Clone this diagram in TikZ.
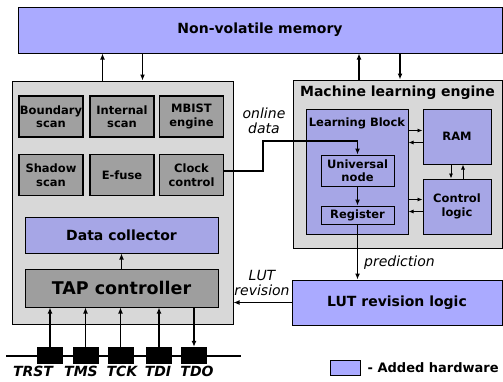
\documentclass[tikz,border=0pt]{standalone}
\usepackage{fontspec}
\setmainfont{DejaVu Sans}
\usetikzlibrary{arrows.meta,positioning}
\definecolor{hwblue}{RGB}{170,170,255}
\definecolor{mlblue}{RGB}{166,166,230}
\definecolor{bggray}{RGB}{216,216,216}
\definecolor{subgray}{RGB}{160,160,160}
\definecolor{tapgray}{RGB}{158,158,158}
\begin{document}
\begin{tikzpicture}[x=1pt,y=-1pt,
  box/.style={draw,line width=1pt,inner sep=0pt,align=center,font=\fontsize{14}{16}\selectfont\bfseries},
  addhw/.style={box,fill=hwblue},
  mlhw/.style={box,fill=mlblue,font=\fontsize{11.5}{13.5}\selectfont\bfseries},
  dftbg/.style={box,fill=bggray},
  sub/.style={box,fill=subgray,line width=1.4pt,minimum width=64pt,minimum height=41pt,font=\fontsize{11.5}{13.5}\selectfont\bfseries},
  pin/.style={fill=black,minimum width=26pt,minimum height=17pt,inner sep=0pt},
  wire/.style={line width=1.2pt,-{Latex[length=6pt,width=5pt]}},
  thinwire/.style={line width=0.8pt,-{Latex[length=5pt,width=4pt]}},
  lbl/.style={font=\fontsize{14}{15}\selectfont\itshape,align=center,inner sep=1pt}]
\useasboundingbox (0,0) rectangle (503,381);
% memory and test side
\node[addhw,minimum width=484pt,minimum height=46pt] (nvm) at (260,30) {Non-volatile memory};
\node[dftbg,minimum width=221pt,minimum height=243pt] (dft) at (122.5,202.5) {};
\node[sub] (bscan) at (51,116.5) {Boundary\\scan};
\node[sub] (iscan) at (122,116.5) {Internal\\scan};
\node[sub] (mbist) at (191.5,116.5) {MBIST\\engine};
\node[sub] (sscan) at (51,175) {Shadow\\scan};
\node[sub] (efuse) at (122,175) {E-fuse};
\node[sub] (clk) at (191.5,175) {Clock\\control};
\node[box,fill=mlblue,minimum width=193pt,minimum height=36pt] (dcoll) at (121.5,235) {Data collector};
\node[box,fill=tapgray,minimum width=193pt,minimum height=38pt,font=\fontsize{17.5}{20}\selectfont\bfseries] (tap) at (121.5,288) {TAP controller};
% machine learning side
\node[dftbg,minimum width=209pt,minimum height=168pt] (mle) at (397.5,164) {};
\node[font=\fontsize{14}{16}\selectfont\bfseries] (mletitle) at (397.5,93) {Machine learning engine};
\node[mlhw,minimum width=102pt,minimum height=125pt] (lb) at (357,171.5) {};
\node[font=\fontsize{11.5}{13.5}\selectfont\bfseries] (lbtitle) at (357,123) {Learning Block};
\node[mlhw,minimum width=68pt,minimum height=55pt] (ram) at (457,136.5) {RAM};
\node[mlhw,minimum width=68pt,minimum height=55pt] (ctrl) at (457,206.5) {Control\\logic};
\node[mlhw,minimum width=73pt,minimum height=31pt] (unode) at (357.5,170.5) {Universal\\node};
\node[mlhw,minimum width=73pt,minimum height=18pt] (reg) at (357.5,215) {Register};
\node[addhw,minimum width=210pt,minimum height=45pt] (lut) at (397,302.5) {LUT revision logic};
% JTAG pins
\coordinate (busL) at (6,356);
\coordinate (busR) at (241,356);
\draw[line width=1.2pt] (busL) -- (busR);
\foreach \i/\x/\lx/\s in {1/50/33/TRST,2/85.5/81/TMS,3/120.5/122/TCK,4/159/158/TDI,5/194/197/TDO}{
  \node[pin] (p\i) at (\x,355.5) {};
  \node[font=\fontsize{14}{16}\selectfont\bfseries\itshape,anchor=north,inner sep=1pt] (l\i) at (\lx,365) {\s};
}
\foreach \i in {1,...,4}\draw[wire] (p\i.north) -- (p\i.north |- tap.south);
\draw[wire] (p5.north |- tap.south) -- (p5.north);
% connections
\draw[wire] ([xshift=-20pt]dft.north) -- ([xshift=-20pt]dft.north |- nvm.south);
\draw[wire] ([xshift=20pt]dft.north |- nvm.south) -- ([xshift=20pt]dft.north);
\draw[wire] ([xshift=-38.5pt]mle.north) -- ([xshift=-38.5pt]mle.north |- nvm.south);
\draw[wire] ([xshift=2.5pt]mle.north |- nvm.south) -- ([xshift=2.5pt]mle.north);
\draw[wire] (tap) -- (dcoll);
\coordinate (bend) at (263,141);
\draw[wire] ([yshift=4pt]clk.east) -| (bend) -| (unode.north);
\node[lbl] (online) at (264,121) {online\\data};
\draw[wire] (unode) -- (reg);
\draw[wire] (reg.south) -- (reg.south |- lut.north);
\node[lbl,anchor=west] (pred) at (363,263) {prediction};
\draw[wire] (lut.west) -- (lut.west -| dft.east);
\node[lbl] (lutrev) at (262,283) {LUT\\revision};
\draw[thinwire] ([yshift=6pt]ram.west -| lb.east) -- ([yshift=6pt]ram.west);
\draw[thinwire] ([yshift=-6pt]ram.west) -- ([yshift=-6pt]ram.west -| lb.east);
\draw[thinwire] ([yshift=7pt]ctrl.west -| lb.east) -- ([yshift=7pt]ctrl.west);
\draw[thinwire] ([yshift=-5pt]ctrl.west) -- ([yshift=-5pt]ctrl.west -| lb.east);
\draw[thinwire] ([xshift=-6pt]ram.south) -- ([xshift=-6pt]ctrl.north);
\draw[thinwire] ([xshift=6pt]ctrl.north) -- ([xshift=6pt]ram.south);
% legend
\node[draw,line width=1pt,fill=hwblue,minimum width=30pt,minimum height=15pt,inner sep=0pt] (leg) at (345,367.5) {};
\node[anchor=west,font=\fontsize{13}{15}\selectfont\bfseries,inner sep=0pt] (legtxt) at ([xshift=7pt]leg.east) {- Added hardware};
\end{tikzpicture}
\end{document}
